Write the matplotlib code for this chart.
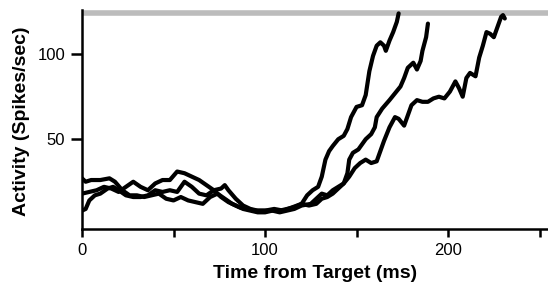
import matplotlib
matplotlib.use("Agg")
import matplotlib.pyplot as plt
import numpy as np

plt.rcParams['font.family'] = ['Liberation Sans', 'DejaVu Sans']

# Trace 1 (fastest rise)
t_fast = [0, 4, 8, 12, 16, 20, 24, 28, 32, 36, 40, 44, 48, 52, 56, 60, 64, 68, 72, 76, 80, 84, 88, 92, 96, 100,
          104, 108, 112, 116, 120, 123, 126, 129, 131, 133, 135, 137, 140, 143, 145, 147, 150, 153, 155, 157,
          159, 161, 163, 165, 166, 168, 170, 172, 173]
v_fast = [18, 19, 20, 22, 21, 19, 22, 25, 22, 20, 24, 26, 26, 31, 30, 28, 26, 23, 20, 16, 13, 11, 9, 8, 7, 7,
          8, 8, 9, 10, 12, 17, 20, 22, 28, 38, 43, 46, 50, 52, 56, 63, 69, 70, 76, 90,
          99, 105, 107, 105, 102, 108, 113, 119, 124]

# Trace 2 (intermediate)
t_mid = [0, 2, 4, 7, 10, 14, 17, 20, 24, 28, 32, 36, 40, 44, 48, 52, 56, 60, 64, 68, 72, 76, 78, 80, 84, 88,
         92, 96, 100, 104, 108, 112, 116, 120, 125, 128, 131, 134, 137, 140, 143, 145, 146, 148, 151, 153,
         155, 158, 160, 161, 164, 168, 171, 174, 176, 178, 181, 183, 185, 186, 188, 189]
v_mid = [8, 9, 14, 17, 18, 21, 22, 20, 17, 16, 16, 17, 20, 19, 20, 19, 25, 22, 18, 17, 20, 21, 23, 20, 15, 11,
         9, 8, 8, 8, 7, 8, 9, 11, 12, 15, 18, 17, 20, 22, 24, 30, 38, 42, 44, 47,
         50, 53, 57, 63, 68, 73, 77, 81, 86, 92, 95, 91, 96, 102, 110, 118]

# Trace 3 (slowest rise)
t_slow = [0, 2, 5, 10, 15, 18, 22, 26, 30, 34, 38, 42, 46, 50, 54, 58, 62, 66, 70, 74, 78, 82, 86, 90, 95,
          100, 105, 110, 115, 120, 124, 128, 131, 134, 137, 140, 143, 146, 149, 152, 155, 158, 161, 163, 165,
          168, 171, 173, 176, 178, 180, 183, 186, 189, 192, 195, 198, 201, 204, 206, 208, 210, 212, 215, 217,
          219, 221, 223, 225, 227, 229, 230, 231]
v_slow = [27, 25, 26, 26, 27, 25, 20, 17, 17, 16, 17, 18, 15, 14, 16, 14, 13, 12, 16, 18, 15, 12, 10, 9, 8,
          8, 9, 8, 10, 12, 11, 12, 15, 16, 18, 21, 24, 28, 33, 36, 38, 36, 37, 43, 49,
          57, 63, 62, 58, 64, 70, 73, 72, 72, 74, 75, 74, 78, 84, 80, 75, 86, 89, 87, 98,
          105, 113, 112, 110, 116, 122, 123, 121]

threshold = 124
x_ticks = [0, 50, 100, 150, 200, 250]
x_ticklabels = ['0', '', '100', '', '200', '']
y_ticks = [50, 100]
y_ticklabels = ['50', '100']

fig = plt.figure(figsize=(5.48, 2.91), dpi=100)
ax = fig.add_axes([82/548, 62/291, 466/548, 219/291])

ax.axhline(threshold, color='#bcbcbc', lw=4.0, zorder=1)
for t, v in [(t_fast, v_fast), (t_mid, v_mid), (t_slow, v_slow)]:
    ax.plot(t, v, color='black', lw=3.0, solid_joinstyle='round', solid_capstyle='round', zorder=3)

ax.set_xlim(0, 254.6)
ax.set_ylim(-2.8, 126)
for s in ['top', 'right']:
    ax.spines[s].set_visible(False)
for s in ['left', 'bottom']:
    ax.spines[s].set_linewidth(1.8)
ax.set_xticks(x_ticks)
ax.set_xticklabels(x_ticklabels)
ax.set_yticks(y_ticks)
ax.set_yticklabels(y_ticklabels)
ax.tick_params(axis='x', length=6, width=1.8, pad=4, labelsize=12, colors='black')
ax.tick_params(axis='y', length=8, width=1.8, pad=4, labelsize=12, colors='black')

fig.text(22/548, 1 - 121.5/291, 'Activity (Spikes/sec)', rotation=90, ha='center', va='center',
         fontsize=14, fontweight='bold')
fig.text(315.5/548, 1 - 274/291, 'Time from Target (ms)', ha='center', va='center',
         fontsize=14, fontweight='bold')

fig.savefig('out.png', dpi=100)
